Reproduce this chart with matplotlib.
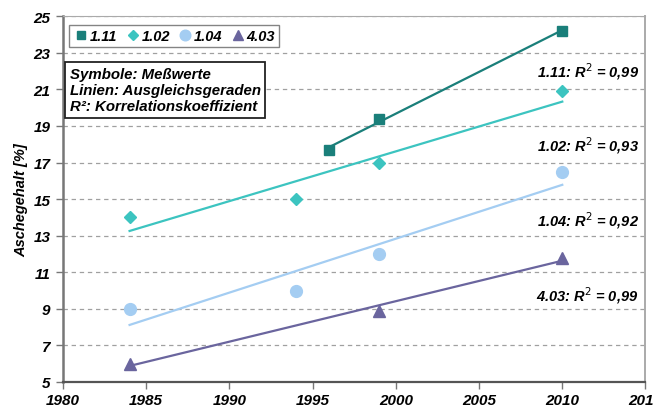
import matplotlib.pyplot as plt
import numpy as np
from matplotlib.lines import Line2D

plt.rcParams['font.family'] = ['Liberation Sans', 'DejaVu Sans']

# measured values (Meßwerte)
years_111 = [1996, 1999, 2010]
ash_111 = [17.7, 19.4, 24.2]

years_102 = [1984, 1994, 1999, 2010]
ash_102 = [14.0, 15.0, 17.0, 20.9]

years_104 = [1984, 1994, 1999, 2010]
ash_104 = [9.0, 10.0, 12.0, 16.5]

years_403 = [1984, 1999, 2010]
ash_403 = [6.0, 8.9, 11.8]

names = ['1.11', '1.02', '1.04', '4.03']
r2_labels = ['0,99', '0,93', '0,92', '0,99']
r2_ypos = [22.0, 17.95, 13.85, 9.75]

series = [
    (years_111, ash_111, '#1a7f7a', 's', 7),
    (years_102, ash_102, '#3cc4c0', 'D', 6),
    (years_104, ash_104, '#a4cdf2', 'o', 8.5),
    (years_403, ash_403, '#6a659e', '^', 8),
]

fig = plt.figure(figsize=(6.53, 4.10), dpi=100)
ax = fig.add_axes([0.0965, 0.066, 0.892, 0.892])

handles = []
for (xs, ys, col, mk, ms), name in zip(series, names):
    xs = np.array(xs)
    ys = np.array(ys)
    # Ausgleichsgerade (linear fit)
    k, d = np.polyfit(xs, ys, 1)
    xl = np.array([xs.min(), xs.max()])
    ax.plot(xl, k * xl + d, '-', color=col, lw=1.6, zorder=3)
    ax.plot(xs, ys, mk, color=col, ms=ms, mec=col, zorder=4)
    handles.append(Line2D([], [], marker=mk, color=col, ls='none', ms=ms * 0.9, label=name))

for name, r2, yp in zip(names, r2_labels, r2_ypos):
    ax.text(2014.6, yp, name + ': R$^{2}$ = ' + r2, ha='right', va='center',
            fontsize=10.5, fontweight='bold', fontstyle='italic')

ax.set_xlim(1980, 2015)
ax.set_ylim(5, 25)
ax.set_xticks(range(1980, 2016, 5))
ax.set_yticks(range(5, 26, 2))
ax.yaxis.grid(True, ls=(0, (3.5, 3)), color='#a0a0a0', lw=0.9)
ax.set_axisbelow(True)

for lab in ax.get_xticklabels() + ax.get_yticklabels():
    lab.set_fontweight('bold')
    lab.set_fontstyle('italic')
    lab.set_fontsize(11)
ax.tick_params(axis='x', direction='out', length=5, width=1, color='#777777', pad=3)
ax.tick_params(axis='y', direction='out', length=5, width=1, color='#777777', pad=4)

ax.spines['left'].set_color('#777777')
ax.spines['left'].set_linewidth(1.8)
ax.spines['bottom'].set_color('#555555')
ax.spines['bottom'].set_linewidth(1.6)
ax.spines['top'].set_color('#aaaaaa')
ax.spines['right'].set_color('#aaaaaa')
ax.spines['right'].set_linewidth(1.4)

ax.set_ylabel('Aschegehalt [%]', fontsize=10.5, fontweight='bold', fontstyle='italic', labelpad=4)

leg = ax.legend(handles=handles, loc='upper left', ncol=4, bbox_to_anchor=(0.006, 0.985),
                frameon=True, fancybox=False, handletextpad=0.1, columnspacing=0.55,
                handlelength=1.0, borderpad=0.3, borderaxespad=0.2,
                prop={'weight': 'bold', 'style': 'italic', 'size': 10.5})
leg.get_frame().set_edgecolor('#666666')
leg.get_frame().set_linewidth(1.0)

ax.text(0.0115, 0.862, 'Symbole: Meßwerte\nLinien: Ausgleichsgeraden\nR²: Korrelationskoeffizient',
        transform=ax.transAxes, ha='left', va='top', fontsize=10.8, fontweight='bold',
        fontstyle='italic', linespacing=1.2, zorder=5,
        bbox=dict(boxstyle='square,pad=0.3', fc='white', ec='#222222', lw=1.3))

fig.savefig('out.png', dpi=100)
